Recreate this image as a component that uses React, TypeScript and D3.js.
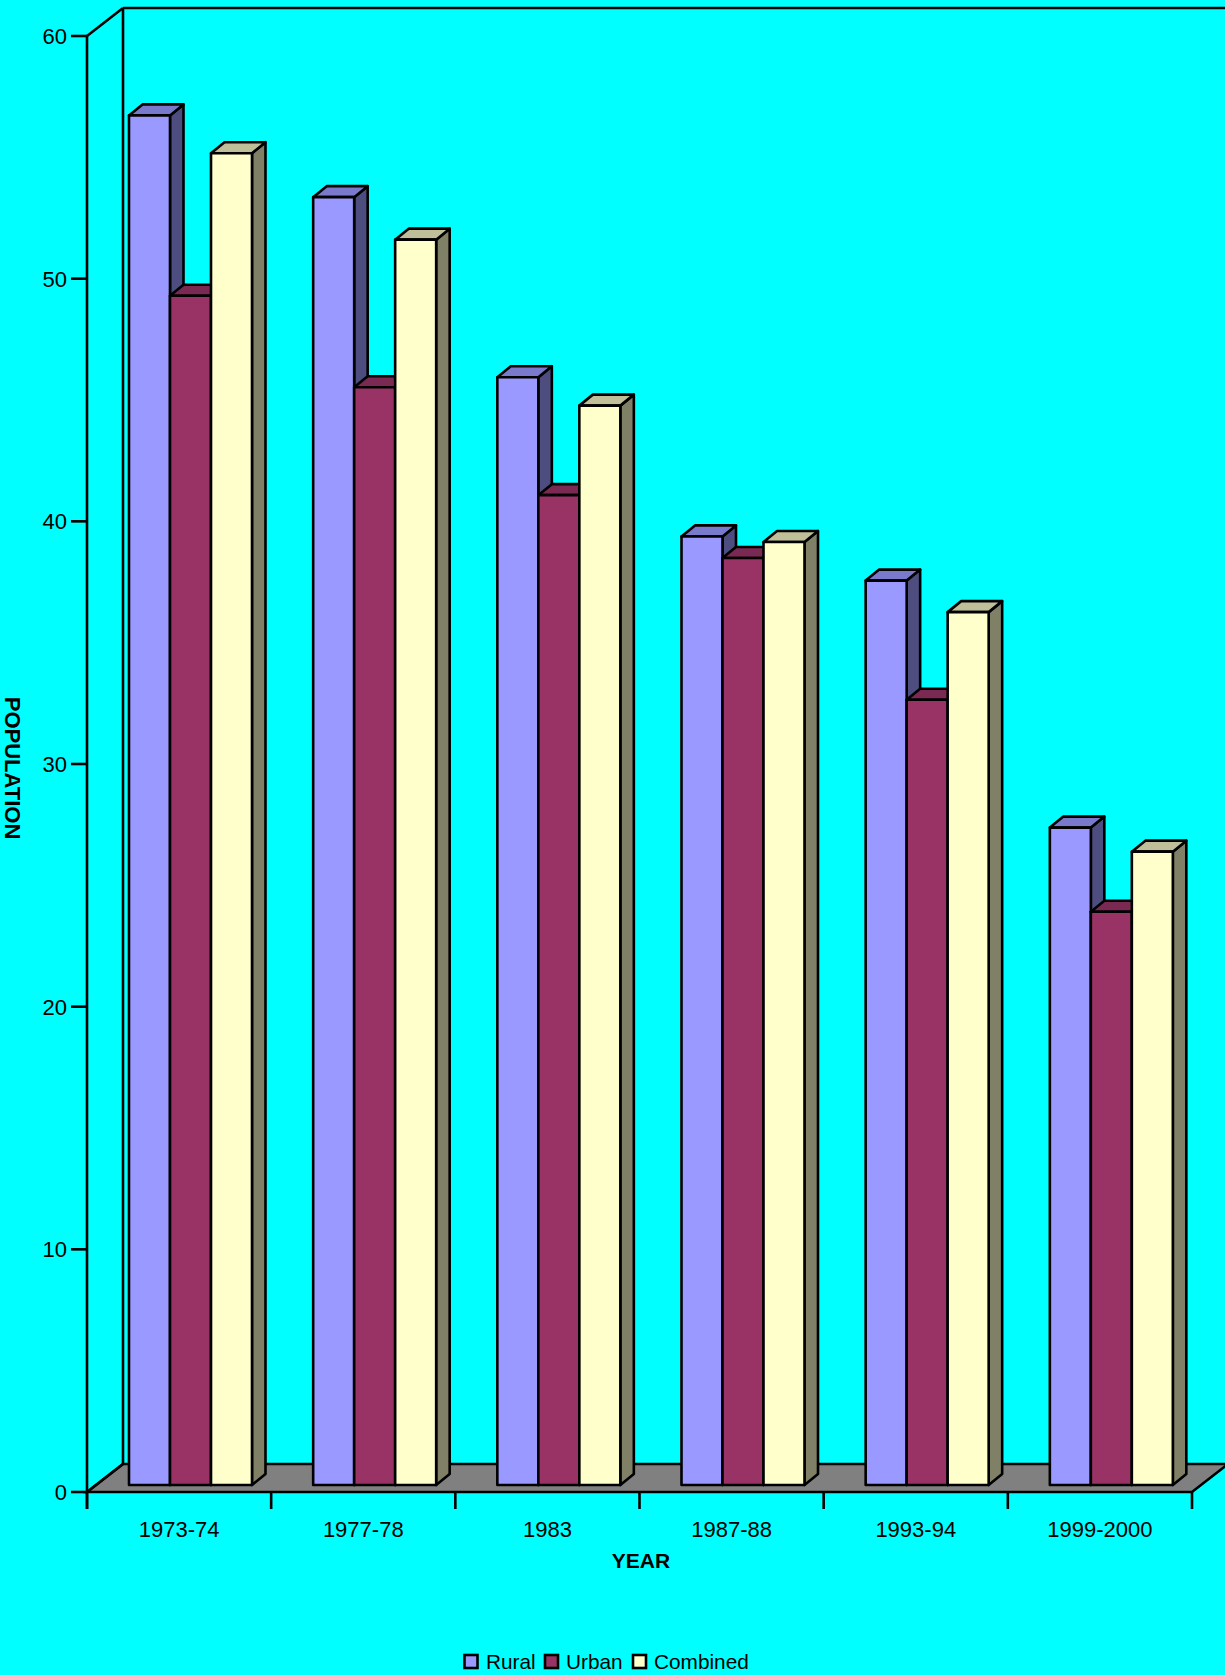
import React from "react";
import * as d3 from "d3";

const years = ["1973-74", "1977-78", "1983", "1987-88", "1993-94", "1999-2000"];
const rural = [56.44, 53.07, 45.65, 39.09, 37.27, 27.09];
const urban = [49.01, 45.24, 40.79, 38.2, 32.36, 23.62];
const combined = [54.88, 51.32, 44.48, 38.86, 35.97, 26.1];
const yTicks = [0, 10, 20, 30, 40, 50, 60];

const seriesNames = ["Rural", "Urban", "Combined"];
const seriesValues = [rural, urban, combined];
const frontColors = ["#9999ff", "#993366", "#ffffcc"];
const topColors = ["#7a7acc", "#7a2952", "#bfbf99"];
const sideColors = ["#4d4d80", "#4d1a33", "#808066"];

const WIDTH = 1225;
const HEIGHT = 1675;
const FONT = "'Liberation Sans', Arial, sans-serif";
const LINE = 2.6;

// Front plane of the chart box and the depth of its floor and walls
const left = 87;
const right = 1192;
const base = 1492;
const top = 36;
const wallDx = 36;
const wallDy = 28;

// Bars stand a little behind the front edge of the floor
const barLiftX = 42;
const barLiftY = 7;
const barDx = 13.5;
const barDy = 11;
const groupWidth = 123;

const y = d3.scaleLinear().domain([0, 60]).range([base, top]);
const xGroup = d3.scaleBand<string>().domain(years).range([left, right]);
const xBar = d3.scaleBand<string>().domain(seriesNames).range([0, groupWidth]);

const poly = (pts: [number, number][]) => pts.map((p) => p.join(",")).join(" ");

function Bar({ x, value, s }: { x: number; value: number; s: number }) {
  const w = xBar.bandwidth();
  const yTop = y(value) - barLiftY;
  const yBase = base - barLiftY;
  return (
    <g stroke="#000" strokeWidth={LINE} strokeLinejoin="round">
      <polygon
        fill={sideColors[s]}
        points={poly([
          [x + w, yTop],
          [x + w + barDx, yTop - barDy],
          [x + w + barDx, yBase - barDy],
          [x + w, yBase],
        ])}
      />
      <polygon
        fill={topColors[s]}
        points={poly([
          [x, yTop],
          [x + barDx, yTop - barDy],
          [x + w + barDx, yTop - barDy],
          [x + w, yTop],
        ])}
      />
      <rect x={x} y={yTop} width={w} height={yBase - yTop} fill={frontColors[s]} />
    </g>
  );
}

const legendSwatchX = [464.5, 545, 633];
const legendTextX = [486, 566, 654];

export default function App() {
  return (
    <svg
      width={WIDTH}
      height={HEIGHT}
      viewBox={`0 0 ${WIDTH} ${HEIGHT}`}
      style={{ position: "absolute", left: 0, top: 0, display: "block", background: "#00ffff" }}
      fontFamily={FONT}
      fill="#000"
    >
      {/* Floor */}
      <polygon
        fill="#808080"
        stroke="#000"
        strokeWidth={LINE}
        points={poly([
          [left, base],
          [left + wallDx, base - wallDy],
          [right + wallDx, base - wallDy],
          [right, base],
        ])}
      />
      {/* Walls */}
      <g stroke="#000" strokeWidth={LINE} fill="none">
        <line x1={left} y1={top} x2={left} y2={base + 17} />
        <line x1={left} y1={top} x2={left + wallDx} y2={top - wallDy} />
        <line x1={left + wallDx} y1={top - wallDy} x2={left + wallDx} y2={base - wallDy} />
        <line x1={left + wallDx} y1={top - wallDy} x2={WIDTH} y2={top - wallDy} />
        <line x1={left} y1={base} x2={left + wallDx} y2={base - wallDy} />
      </g>

      {/* Value axis */}
      {yTicks.map((t) => (
        <g key={t}>
          <line x1={left - 16} x2={left} y1={y(t)} y2={y(t)} stroke="#000" strokeWidth={LINE} />
          <text x={left - 20} y={y(t) + 8} textAnchor="end" fontSize={22}>
            {t}
          </text>
        </g>
      ))}

      {/* Category axis */}
      {[...years.map((c) => xGroup(c) as number), right].map((x, i) => (
        <line key={i} x1={x} x2={x} y1={base} y2={base + 17} stroke="#000" strokeWidth={LINE} />
      ))}
      {years.map((c) => (
        <text
          key={c}
          x={(xGroup(c) as number) + xGroup.bandwidth() / 2}
          y={1537}
          textAnchor="middle"
          fontSize={22}
        >
          {c}
        </text>
      ))}

      {/* Bars */}
      {years.map((c, i) =>
        seriesNames.map((name, s) => (
          <Bar
            key={c + name}
            x={(xGroup(c) as number) + barLiftX + (xBar(name) as number)}
            value={seriesValues[s][i]}
            s={s}
          />
        ))
      )}

      {/* Axis titles */}
      <text x={641} y={1568} textAnchor="middle" fontSize={21} fontWeight="bold">
        YEAR
      </text>
      <text
        transform="translate(5,768) rotate(90)"
        textAnchor="middle"
        fontSize={22}
        fontWeight="bold"
      >
        POPULATION
      </text>

      {/* Legend */}
      {seriesNames.map((name, s) => (
        <g key={name}>
          <rect
            x={legendSwatchX[s]}
            y={1655}
            width={13}
            height={13}
            fill={frontColors[s]}
            stroke="#000"
            strokeWidth={LINE}
          />
          <text x={legendTextX[s]} y={1668.5} fontSize={20.8}>
            {name}
          </text>
        </g>
      ))}
    </svg>
  );
}
